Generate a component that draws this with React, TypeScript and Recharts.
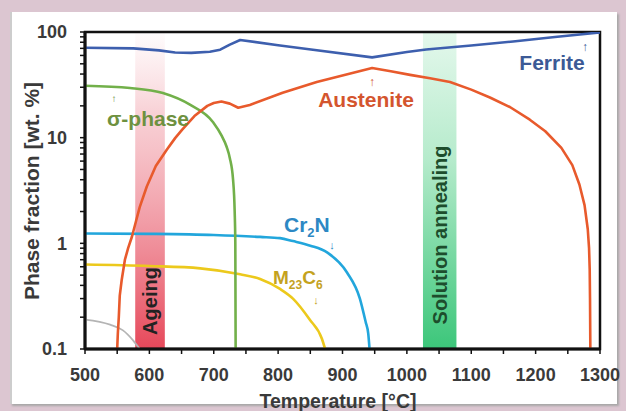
import React from "react"
import { LineChart, Line, XAxis, YAxis, ReferenceArea } from "recharts"

// temperature axis
const xTicks = [500, 550, 600, 650, 700, 750, 800, 850, 900, 950, 1000, 1050, 1100, 1150, 1200, 1250, 1300]
const yTicks = [
    0.1, 0.2, 0.3, 0.4, 0.5, 0.6, 0.7, 0.8, 0.9,
    1, 2, 3, 4, 5, 6, 7, 8, 9,
    10, 20, 30, 40, 50, 60, 70, 80, 90, 100,
]
const yLabels = [0.1, 1, 10, 100]

// phase curves
const ferriteT = [500, 575, 615, 640, 665, 694, 710, 725, 741, 800, 854, 946, 1000, 1030, 1100, 1165, 1230, 1300]
const ferriteV = [71, 70, 67, 64, 63.5, 65, 68, 76, 84, 75, 68, 57.5, 64.7, 68.4, 74.6, 81.4, 89.7, 99]

const austeniteT = [550, 551, 552.5, 554, 557, 562, 567, 573, 579, 585, 596, 610, 627, 640, 651, 670, 690, 700, 712, 725, 738, 756, 807, 860, 946, 975, 1005, 1036, 1067, 1100, 1129, 1160, 1191, 1215, 1240, 1257, 1268, 1276, 1281, 1283, 1284, 1284.5, 1285]
const austeniteV = [0.1, 0.14, 0.2, 0.32, 0.45, 0.7, 0.9, 1.16, 1.6, 2.2, 3.45, 5.4, 7.7, 9.9, 11.9, 16, 20, 21.3, 22, 21, 19.2, 20.4, 26.6, 33.7, 45.7, 42.5, 39.3, 36.5, 33.6, 28.5, 24, 19.5, 14.8, 11.5, 8, 5.5, 3.6, 2.3, 1.36, 0.9, 0.57, 0.3, 0.1]

const sigmaT = [500, 570, 621, 663, 699, 712, 720, 725, 730, 732.5, 733.5, 734]
const sigmaV = [31, 29.5, 26.4, 20.5, 14, 10.5, 8.2, 6.4, 4, 2, 1, 0.1]

const cr2nT = [500, 600, 700, 772, 803, 823, 850, 876, 907, 927, 936, 940, 942]
const cr2nV = [1.24, 1.23, 1.2, 1.15, 1.12, 1.05, 0.95, 0.82, 0.53, 0.3, 0.18, 0.14, 0.1]

const m23c6T = [500, 600, 679, 741, 772, 803, 823, 849, 868, 873]
const m23c6V = [0.63, 0.61, 0.58, 0.51, 0.46, 0.37, 0.3, 0.19, 0.125, 0.1]

const otherT = [500, 539, 559, 575, 585]
const otherV = [0.19, 0.17, 0.15, 0.12, 0.1]

// heat treatment windows
const ageing = [578, 624]
const solution = [1025, 1077]

const rows = (t: number[], v: number[]) => t.map((x, i) => ({ t: x, v: v[i] }))

const FONT = "'Liberation Sans', Arial, sans-serif"

export default function App() {
    const tickStyle = { fontFamily: FONT, fontWeight: 700, fontSize: 18, fill: "#3a3a3a" }
    const series = [
        { name: "other", data: rows(otherT, otherV), color: "#b4b4b4", w: 1.8, curve: "monotone" },
        { name: "M23C6", data: rows(m23c6T, m23c6V), color: "#ecc91c", w: 2.6, curve: "monotone" },
        { name: "Cr2N", data: rows(cr2nT, cr2nV), color: "#22a6dc", w: 2.6, curve: "monotone" },
        { name: "sigma", data: rows(sigmaT, sigmaV), color: "#72b04a", w: 2.6, curve: "monotone" },
        { name: "Austenite", data: rows(austeniteT, austeniteV), color: "#e85a2c", w: 2.6, curve: "linear" },
        { name: "Ferrite", data: rows(ferriteT, ferriteV), color: "#3d5fae", w: 2.6, curve: "linear" },
    ]

    return (
        <div style={{ position: "fixed", left: 0, top: 0, width: 626, height: 411, background: "#dcc6d1", overflow: "hidden" }}>
            <div
                style={{
                    position: "absolute", left: 10, top: 12, width: 605, height: 392,
                    background: "#fff", borderLeft: "2px solid #cdcdcd", boxShadow: "2px 2px 2px #a8a8a8",
                }}
            />
            <div style={{ position: "absolute", left: 0, top: 0 }}>
                <LineChart width={626} height={411} margin={{ top: 32, right: 26, bottom: 32, left: 0 }}>
                    <defs>
                        <linearGradient id="ageGrad" x1="0" y1="0" x2="0" y2="1">
                            <stop offset="0%" stopColor="#f6c4ca" stopOpacity={0.05} />
                            <stop offset="25%" stopColor="#f4b4bc" stopOpacity={0.6} />
                            <stop offset="100%" stopColor="#e6485a" stopOpacity={1} />
                        </linearGradient>
                        <linearGradient id="solGrad" x1="0" y1="0" x2="0" y2="1">
                            <stop offset="0%" stopColor="#e4f8ec" stopOpacity={1} />
                            <stop offset="40%" stopColor="#b6ebcc" stopOpacity={1} />
                            <stop offset="100%" stopColor="#3cc67a" stopOpacity={1} />
                        </linearGradient>
                    </defs>
                    <XAxis
                        dataKey="t"
                        type="number"
                        domain={[500, 1300]}
                        ticks={xTicks}
                        interval={0}
                        allowDataOverflow
                        height={30}
                        tickSize={5}
                        tickMargin={14}
                        tick={tickStyle}
                        tickFormatter={(v: number) => (v % 100 === 0 ? String(v) : "")}
                        axisLine={{ stroke: "#111", strokeWidth: 3 }}
                        tickLine={{ stroke: "#111", strokeWidth: 1.5 }}
                    />
                    <YAxis
                        dataKey="v"
                        type="number"
                        scale="log"
                        domain={[0.1, 100]}
                        ticks={yTicks}
                        interval={0}
                        allowDataOverflow
                        width={85}
                        tickSize={5}
                        tickMargin={13}
                        tick={tickStyle}
                        tickFormatter={(v: number) => (yLabels.includes(v) ? String(v) : "")}
                        axisLine={{ stroke: "#111", strokeWidth: 3 }}
                        tickLine={{ stroke: "#111", strokeWidth: 1.5 }}
                    />
                    <ReferenceArea x1={ageing[0]} x2={ageing[1]} y1={0.1} y2={100} fill="url(#ageGrad)" fillOpacity={1} stroke="none" />
                    <ReferenceArea x1={solution[0]} x2={solution[1]} y1={0.1} y2={100} fill="url(#solGrad)" fillOpacity={1} stroke="none" />
                    {series.map((s) => (
                        <Line
                            key={s.name}
                            data={s.data}
                            dataKey="v"
                            type={s.curve as "monotone" | "linear"}
                            stroke={s.color}
                            strokeWidth={s.w}
                            strokeLinejoin="round"
                            dot={false}
                            isAnimationActive={false}
                        />
                    ))}
                    <ReferenceArea x1={500} x2={1300} y1={0.1} y2={100} fill="none" stroke="#111" strokeWidth={2.5} />
                </LineChart>
            </div>
            <svg width={626} height={411} style={{ position: "absolute", left: 0, top: 0, pointerEvents: "none" }}>
                <g fontFamily={FONT} fontWeight={700}>
                    <text x={39} y={191} fontSize={21} fill="#3a3a3a" textAnchor="middle" transform="rotate(-90 39 191)">
                        Phase fraction [wt. %]
                    </text>
                    <text x={338} y={408} fontSize={19.5} fill="#3a3a3a" textAnchor="middle">
                        Temperature [°C]
                    </text>

                    <text x={552} y={70} fontSize={21} fill="#3c5a96" textAnchor="middle">Ferrite</text>
                    <text x={585} y={51} fontSize={12} fill="#3c5a96" textAnchor="middle">↑</text>

                    <text x={366} y={107} fontSize={21} fill="#d4552e" textAnchor="middle">Austenite</text>
                    <text x={372} y={86} fontSize={12} fill="#d4552e" textAnchor="middle">↑</text>

                    <text x={107} y={126} fontSize={21} fill="#6e9140">σ-phase</text>
                    <text x={114} y={102} fontSize={10} fill="#6e9140" textAnchor="middle">↑</text>

                    <text x={284} y={232} fontSize={21} fill="#2d88c4">
                        Cr<tspan fontSize={13} dy={5}>2</tspan><tspan dy={-5}>N</tspan>
                    </text>
                    <text x={332} y={249} fontSize={11} fill="#2d88c4" textAnchor="middle">↓</text>

                    <text x={273} y={284} fontSize={19} fill="#c4a21e">
                        M<tspan fontSize={12} dy={5}>23</tspan><tspan dy={-5}>C</tspan><tspan fontSize={12} dy={5}>6</tspan>
                    </text>
                    <text x={316} y={304} fontSize={11} fill="#c4a21e" textAnchor="middle">↓</text>

                    <text x={157} y={301} fontSize={20} fill="#222" textAnchor="middle" transform="rotate(-90 157 301)">
                        Ageing
                    </text>
                    <text x={447} y={235} fontSize={20} fill="#1d4d2c" textAnchor="middle" transform="rotate(-90 447 235)">
                        Solution annealing
                    </text>
                </g>
            </svg>
        </div>
    )
}
